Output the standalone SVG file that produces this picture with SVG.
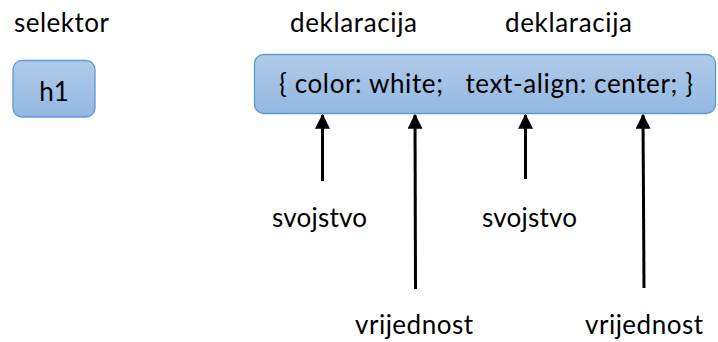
<svg xmlns="http://www.w3.org/2000/svg" width="718" height="342" viewBox="0 0 718 342">
<defs>
<linearGradient id="g" x1="0" y1="0" x2="0" y2="1">
<stop offset="0" stop-color="#b0cbe9"/>
<stop offset="1" stop-color="#93b7e2"/>
</linearGradient>
<marker id="ah" markerWidth="5" markerHeight="5" refX="4.6" refY="2.5" orient="auto" markerUnits="strokeWidth">
<path d="M0,0 L5,2.5 L0,5 Z" fill="#000"/>
</marker>
<style>
text{font-family:Lato,"Liberation Sans",sans-serif;font-size:26px;fill:#000}
.box{fill:url(#g);stroke:#5b9bd5;stroke-width:1.3}
.arr{stroke:#000;stroke-width:3;fill:none;marker-end:url(#ah)}
</style>
</defs>
<rect width="718" height="342" fill="#fff"/>
<text x="14" y="32" textLength="95">selektor</text>
<text x="290" y="32" textLength="127">deklaracija</text>
<text x="505" y="32" textLength="127">deklaracija</text>
<g id="selector">
<rect class="box" x="13" y="60.5" width="82" height="56.5" rx="9"/>
<text x="54" y="101" text-anchor="middle">h1</text>
</g>
<g id="declaration">
<rect class="box" x="254.5" y="54.5" width="461" height="59" rx="9"/>
<text x="279" y="93" textLength="414" xml:space="preserve">{ color: white;   text-align: center; }</text>
</g>
<g id="connectors">
<line class="arr" x1="322.5" y1="181" x2="322.5" y2="115"/>
<line class="arr" x1="415.5" y1="289" x2="415" y2="115"/>
<line class="arr" x1="525.5" y1="179" x2="525.5" y2="115"/>
<line class="arr" x1="644" y1="288" x2="643" y2="115"/>
</g>
<g id="labels">
<text x="272" y="227" textLength="95">svojstvo</text>
<text x="482" y="227" textLength="95">svojstvo</text>
<text x="355" y="334" textLength="118">vrijednost</text>
<text x="585" y="334" textLength="118">vrijednost</text>
</g>
</svg>
